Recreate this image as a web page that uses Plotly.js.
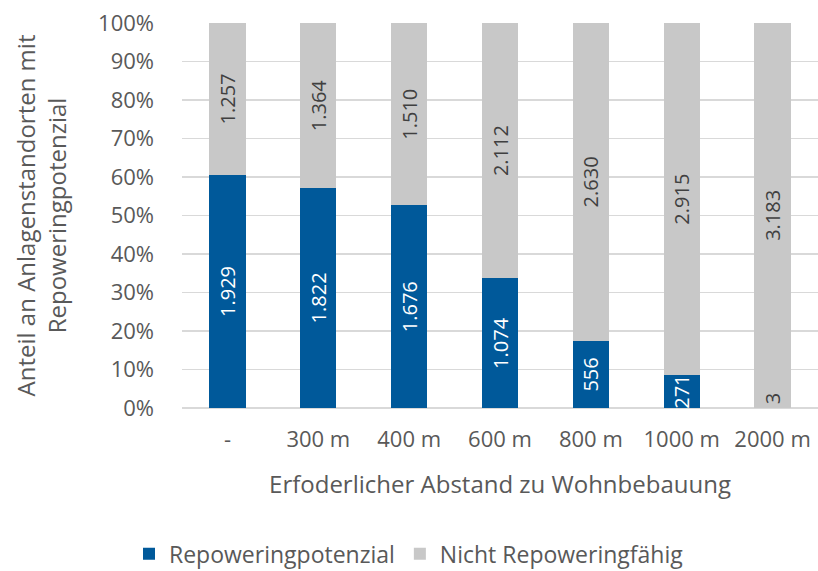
<!DOCTYPE html>
<html>
<head>
<meta charset="utf-8">
<script src="https://cdn.plot.ly/plotly-3.0.1.min.js"></script>
<style>html,body{margin:0;padding:0;background:#fff;}#chart{width:818px;height:571px;}</style>
</head>
<body>
<div id="chart"></div>
<script>
const categories = ['-', '300 m', '400 m', '600 m', '800 m', '1000 m', '2000 m'];
const repowering = [1929, 1822, 1676, 1074, 556, 271, 3];
const nichtRepowering = [1257, 1364, 1510, 2112, 2630, 2915, 3183];
const yTickVals = [0, 10, 20, 30, 40, 50, 60, 70, 80, 90, 100];
const yTickText = ['0%', '10%', '20%', '30%', '40%', '50%', '60%', '70%', '80%', '90%', '100%'];

const fmt = n => String(n).replace(/\B(?=(\d{3})+(?!\d))/g, '.');
const FONT = '"Open Sans", "Noto Sans", sans-serif';

// tiny segments: Plotly hides their inside text, so label them with an annotation
const annotations = [];
repowering.forEach((v, i) => {
  const share = 100 * v / (v + nichtRepowering[i]);
  if (share < 2) {
    annotations.push({
      x: categories[i], y: Math.max(share / 2, 2.4), xref: 'x', yref: 'y',
      text: fmt(v), showarrow: false, textangle: -90,
      font: {family: FONT, size: 20, color: '#404040'}
    });
  }
});

const traces = [
  {
    type: 'bar', name: 'Repoweringpotenzial', x: categories, y: repowering,
    marker: {color: '#00599a'},
    text: repowering.map(fmt), textposition: 'inside', insidetextanchor: 'middle',
    textangle: -90, constraintext: 'none', cliponaxis: true,
    textfont: {family: FONT, size: 20, color: '#ffffff'},
    hoverinfo: 'none'
  },
  {
    type: 'bar', name: 'Nicht Repoweringfähig', x: categories, y: nichtRepowering,
    marker: {color: '#c8c8c8'},
    text: nichtRepowering.map(fmt), textposition: 'inside', insidetextanchor: 'middle',
    textangle: -90, constraintext: 'none', cliponaxis: true,
    textfont: {family: FONT, size: 20, color: '#404040'},
    hoverinfo: 'none'
  }
];

const layout = {
  width: 818, height: 571,
  margin: {l: 182, r: 0, t: 23, b: 163},
  barmode: 'stack', barnorm: 'percent', bargap: 0.6,
  paper_bgcolor: '#fff', plot_bgcolor: '#fff',
  font: {family: FONT, color: '#595959', size: 22},
  annotations: annotations,
  xaxis: {
    tickfont: {size: 22, color: '#595959'},
    showgrid: false, showline: false, zeroline: false,
    ticks: '', ticklabelstandoff: 16,
    title: {text: 'Erfoderlicher Abstand zu Wohnbebauung', font: {size: 24, color: '#595959'}, standoff: 24}
  },
  yaxis: {
    range: [0, 100], tickvals: yTickVals, ticktext: yTickText,
    tickfont: {size: 22, color: '#595959'},
    showgrid: true, gridcolor: '#d9d9d9', gridwidth: 1.5,
    zeroline: true, zerolinecolor: '#d9d9d9', zerolinewidth: 1.5,
    showline: false, ticks: '', ticklabelstandoff: 27,
    title: {text: 'Anteil an Anlagenstandorten mit<br>Repoweringpotenzial', font: {size: 24, color: '#595959'}, standoff: 24}
  },
  showlegend: true,
  legend: {
    orientation: 'h', x: 0.5, xanchor: 'center', xref: 'container',
    y: 0.03, yanchor: 'middle', yref: 'container',
    font: {size: 23, color: '#595959'},
    itemwidth: 30, traceorder: 'normal'
  }
};

Plotly.newPlot('chart', traces, layout, {displayModeBar: false, staticPlot: true});
</script>
</body>
</html>
